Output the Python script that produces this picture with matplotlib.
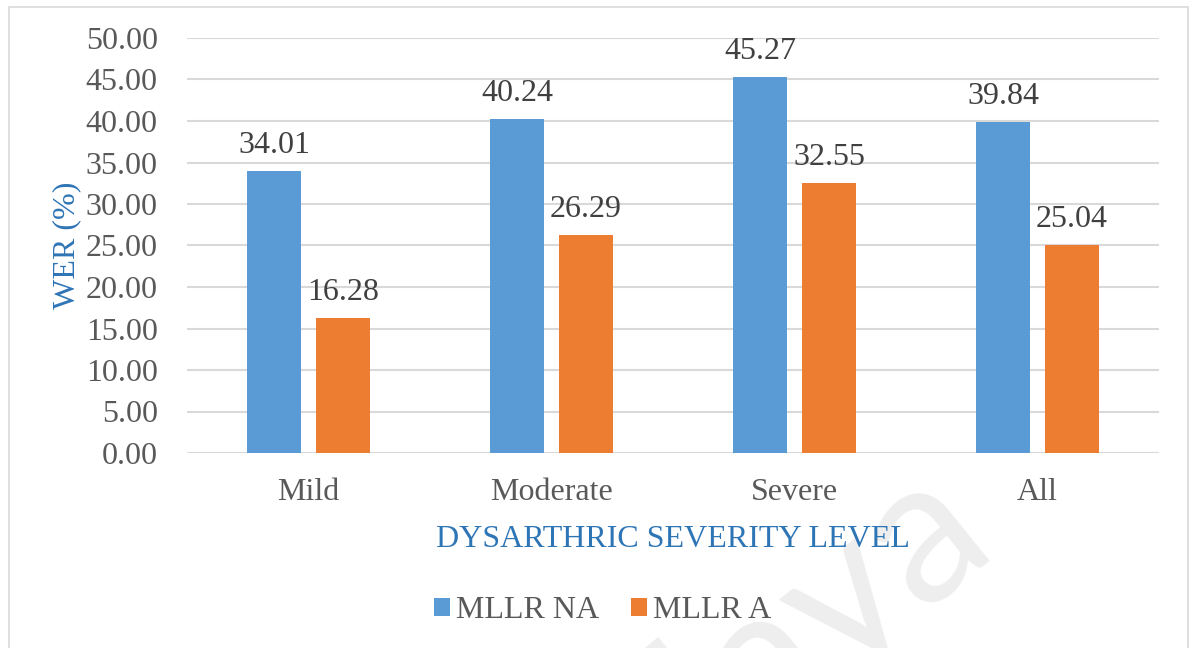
import matplotlib
matplotlib.use("Agg")
import matplotlib.pyplot as plt
from matplotlib.patches import Rectangle
import numpy as np

# Word error rate per dysarthric severity level
categories = ["Mild", "Moderate", "Severe", "All"]
mllr_na = [34.01, 40.24, 45.27, 39.84]
mllr_a = [16.28, 26.29, 32.55, 25.04]
series_names = ["MLLR NA", "MLLR A"]
y_ticks = [0, 5, 10, 15, 20, 25, 30, 35, 40, 45, 50]

BLUE = "#5B9BD5"
ORANGE = "#ED7D31"
TICK_COLOR = "#595959"
LABEL_COLOR = "#404040"
TITLE_BLUE = "#2E75B6"
GRID = "#D9D9D9"
SERIF = "Liberation Serif"
FS = 23

W, H = 1194, 648
fig = plt.figure(figsize=(W / 100, H / 100), dpi=100)
fig.patch.set_facecolor("white")

# faint background watermark
fig.text(997 / W, 1 - 540 / H, "Malaya", fontsize=145, family="Lato",
         color="#EEEEEE", rotation=39, rotation_mode="anchor",
         ha="right", va="baseline", zorder=-10)

# chart outline
fig.patches.append(Rectangle((9 / W, -0.1), (1188 - 9) / W, 1.1 - 7 / H,
                             transform=fig.transFigure, fill=False,
                             edgecolor="#D9D9D9", linewidth=1.2, zorder=1))

ax = fig.add_axes([187 / W, 1 - 453 / H, (1159 - 187) / W, (453 - 38) / H])
ax.set_facecolor("none")

x = np.arange(len(categories))
width = 0.222
offset = 0.142
b1 = ax.bar(x - offset, mllr_na, width, color=BLUE, label=series_names[0], zorder=3)
b2 = ax.bar(x + offset, mllr_a, width, color=ORANGE, label=series_names[1], zorder=3)

for bars, vals in ((b1, mllr_na), (b2, mllr_a)):
    for rect, v in zip(bars, vals):
        ax.annotate(f"{v:.2f}", (rect.get_x() + rect.get_width() / 2, v),
                    xytext=(0, 13), textcoords="offset points",
                    ha="center", va="baseline", fontsize=FS,
                    family=SERIF, color=LABEL_COLOR)

ax.set_xlim(-0.5, len(categories) - 0.5)
ax.set_ylim(0, 50)
ax.set_yticks(y_ticks)
ax.set_yticklabels([f"{t:.2f}" for t in y_ticks])
ax.set_xticks(x)
ax.set_xticklabels(categories)
ax.yaxis.grid(True, color=GRID, linewidth=1.5, zorder=0)
ax.set_axisbelow(True)
for s in ax.spines.values():
    s.set_visible(False)
ax.tick_params(axis="both", length=0, labelsize=FS, labelcolor=TICK_COLOR)
ax.tick_params(axis="y", pad=21)
ax.tick_params(axis="x", pad=18)
for lab in ax.get_xticklabels() + ax.get_yticklabels():
    lab.set_family(SERIF)

ax.set_xlabel("DYSARTHRIC SEVERITY LEVEL", fontsize=FS, family=SERIF,
              color=TITLE_BLUE, labelpad=13)
ax.set_ylabel("WER (%)", fontsize=FS, family=SERIF, color=TITLE_BLUE,
              labelpad=3)

leg = fig.legend(handles=[b1, b2], labels=series_names, loc="center",
                 bbox_to_anchor=(603 / W, 1 - 611 / H), ncol=2, frameon=False,
                 prop={"family": SERIF, "size": FS},
                 handlelength=0.5, handleheight=0.5, handletextpad=0.19,
                 columnspacing=1.0)
for t in leg.get_texts():
    t.set_color(TICK_COLOR)

fig.savefig("out.png", dpi=100, facecolor="white")
